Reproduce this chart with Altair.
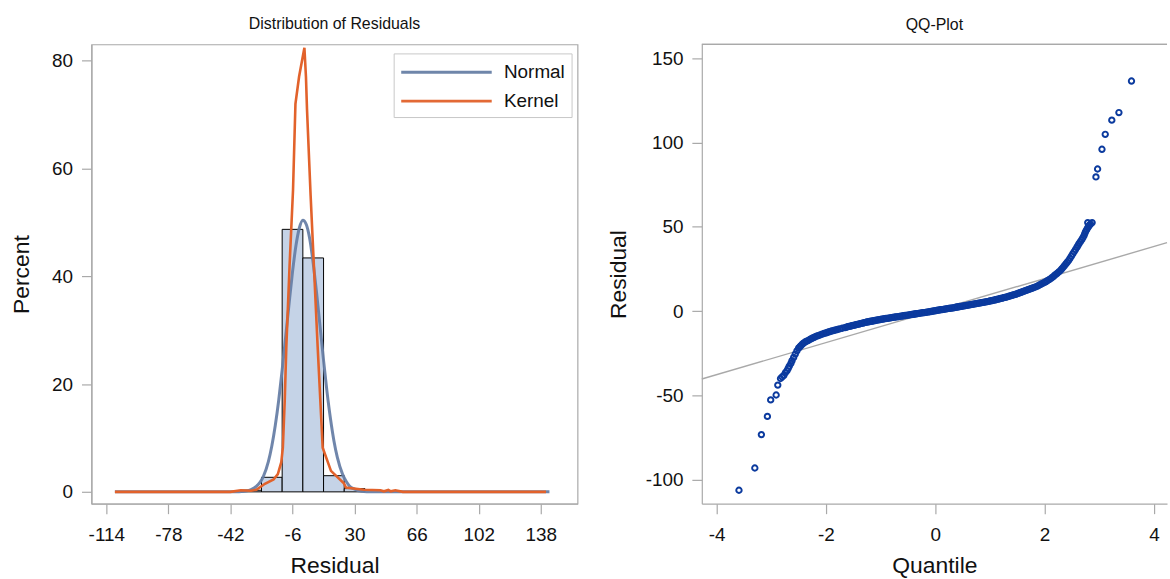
import altair as alt
import pandas as pd

# ---------------- data ----------------
# histogram (bin start, bin end, percent)
bin_start = [-36, -24, -12, 0, 12, 24]
bin_end = [-24, -12, 0, 12, 24, 36]
bin_pct = [0.3, 2.7, 48.7, 43.4, 3.0, 0.6]

# normal density curve (percent)
normal_x = [-109, -50, -40, -34, -30, -27, -25, -23, -20, -18, -16, -14, -12, -10, -8, -6, -4, -2,
            0, 2, 4, 6, 8, 10, 12, 14, 16, 18, 20, 23, 25, 27, 30, 34, 40, 50, 143]
normal_y = [0, 0, 0, 0.1, 0.4, 1.0, 1.7, 2.8, 5.6, 8.5, 12.3, 17.0, 22.6, 28.7, 34.9, 40.8, 45.7, 49.0,
            50.4, 49.6, 46.9, 42.4, 36.8, 30.6, 24.4, 18.6, 13.6, 9.5, 6.4, 3.3, 2.0, 1.1, 0.5, 0.1, 0, 0, 0]

# kernel density curve (percent)
kernel_x = [-109, -42, -36, -30, -27, -22, -17, -14.5, -12.5, -11.6, -10.5, -9.6, -7.7, -5.7, -4.3, -2.2,
            0.9, 1.8, 2.4, 4.5, 8.6, 11.5, 16.3, 23.8, 25, 35.4, 45, 47, 49.6, 51, 53.6, 58, 141]
kernel_y = [0, 0, 0.3, 0.2, 0.4, 1.5, 2.3, 3.3, 5.5, 8.2, 17, 26.8, 42, 56, 72, 77,
            82.4, 77, 71, 55, 26.8, 8.2, 3.9, 1.6, 0.8, 0.4, 0.3, 0.1, 0.35, 0.1, 0.3, 0, 0]

# QQ plot: theoretical quantile vs residual (tails and main curve)
qq_q = [-3.59, -3.30, -3.18, -3.07, -3.01, -2.91, -2.88, -2.83, -2.80, -2.77, -2.74, -2.71, -2.69, -2.67,
        -2.64, -2.62, -2.59, -2.56, -2.53, -2.50, -2.46, -2.41, -2.36, -2.30, -2.25, -2.20, -2.14, -2.07,
        -2.00, -1.95, -1.89, -1.82, -1.75, -1.65, -1.60, -1.55, -1.50, -1.45, -1.40, -1.35, -1.30, -1.25,
        -1.20, -1.15, -1.10, -1.05, -1.00, -0.95, -0.90, -0.85, -0.80, -0.75, -0.70, -0.65, -0.60, -0.55,
        -0.50, -0.45, -0.40, -0.35, -0.30, -0.25, -0.20, -0.15, -0.10, -0.05, 0.00, 0.05, 0.10, 0.15,
        0.20, 0.25, 0.30, 0.35, 0.40, 0.45, 0.50, 0.55, 0.60, 0.65, 0.70, 0.75, 0.80, 0.85, 0.90, 0.95,
        1.00, 1.05, 1.10, 1.15, 1.20, 1.25, 1.30, 1.35, 1.40, 1.45, 1.50, 1.55, 1.60, 1.65, 1.70, 1.75,
        1.80, 1.87, 1.93, 2.00, 2.05, 2.11, 2.17, 2.23, 2.29, 2.34, 2.39, 2.44, 2.49, 2.54, 2.59, 2.63,
        2.68, 2.72, 2.75, 2.79, 2.82, 2.84, 2.87, 2.79, 2.94, 2.97, 3.05, 3.11, 3.23, 3.36, 3.59]
qq_r = [-106.3, -93.1, -73.3, -62.5, -52.7, -49.8, -43.9, -40.0, -39.0, -38.2, -36.5, -35.3, -34.0, -32.7,
        -31.0, -29.4, -27.5, -25.5, -23.6, -22.0, -20.6, -19.0, -18.0, -17.0, -16.1, -15.3, -14.6, -13.7,
        -13.0, -12.4, -11.8, -11.2, -10.6, -9.8, -9.3, -8.9, -8.5, -8.1, -7.7, -7.3, -6.9, -6.5,
        -6.2, -5.9, -5.6, -5.3, -5.0, -4.7, -4.4, -4.2, -3.9, -3.6, -3.4, -3.1, -2.9, -2.6,
        -2.4, -2.1, -1.9, -1.6, -1.4, -1.1, -0.9, -0.6, -0.4, -0.1, 0.2, 0.5, 0.8, 1.0,
        1.3, 1.6, 1.8, 2.1, 2.4, 2.7, 2.9, 3.2, 3.5, 3.8, 4.1, 4.4, 4.7, 5.0, 5.3, 5.6,
        6.0, 6.3, 6.7, 7.1, 7.5, 7.9, 8.3, 8.8, 9.3, 9.8, 10.3, 10.9, 11.5, 12.1, 12.7, 13.3,
        13.9, 14.8, 15.9, 17.0, 18.0, 19.2, 20.8, 22.4, 24.1, 26.0, 28.0, 30.0, 32.6, 35.2, 37.8, 40.0,
        42.4, 44.7, 47.2, 49.5, 51.0, 51.6, 52.5, 52.5, 79.6, 84.3, 96.0, 104.9, 113.3, 117.8, 136.5]

# QQ plot: further points inside the dense central band
band_q = [-2.48, -2.435, -2.385, -2.33, -2.275, -2.225, -2.17, -2.105, -2.035, -1.975, -1.92, -1.855,
          -1.785, -1.70, -1.625, -1.575, -1.525, -1.475, -1.425, -1.375, -1.325, -1.275, -1.225, -1.175,
          -1.125, -1.075, -1.025, -0.975, -0.925, -0.875, -0.825, -0.775, -0.725, -0.675, -0.625, -0.575,
          -0.525, -0.475, -0.425, -0.375, -0.325, -0.275, -0.225, -0.175, -0.125, -0.075, -0.025, 0.025,
          0.075, 0.125, 0.175, 0.225, 0.275, 0.325, 0.375, 0.425, 0.475, 0.525, 0.575, 0.625, 0.675,
          0.725, 0.775, 0.825, 0.875, 0.925, 0.975, 1.025, 1.075, 1.125, 1.175, 1.225, 1.275, 1.325,
          1.375, 1.425, 1.475, 1.525, 1.575, 1.625, 1.675, 1.725, 1.775, 1.835, 1.90, 1.965, 2.025,
          2.08, 2.14, 2.20, 2.26, 2.315, 2.365, 2.415, 2.465, 2.515, 2.565, 2.61, 2.655, 2.70, 2.735,
          2.77, 2.805]
band_r = [-21.3, -19.8, -18.5, -17.5, -16.5, -15.7, -14.9, -14.1, -13.3, -12.7, -12.1, -11.5,
          -10.9, -10.2, -9.5, -9.1, -8.7, -8.3, -7.9, -7.5, -7.1, -6.7, -6.35, -6.05,
          -5.75, -5.45, -5.15, -4.85, -4.55, -4.3, -4.05, -3.75, -3.5, -3.25, -3.0, -2.75,
          -2.5, -2.25, -2.0, -1.75, -1.5, -1.25, -1.0, -0.75, -0.5, -0.25, 0.05, 0.35,
          0.65, 0.9, 1.15, 1.45, 1.7, 1.95, 2.25, 2.55, 2.8, 3.05, 3.35, 3.65, 3.95,
          4.25, 4.55, 4.85, 5.15, 5.45, 5.8, 6.15, 6.5, 6.9, 7.3, 7.7, 8.1, 8.55,
          9.05, 9.55, 10.05, 10.6, 11.2, 11.8, 12.4, 13.0, 13.6, 14.35, 15.35, 16.45, 17.5,
          18.6, 20.0, 21.6, 23.25, 25.0, 27.0, 29.0, 31.3, 33.9, 36.5, 38.9, 41.2, 43.5, 46.0,
          48.3, 50.2]

# reference line end points
ref_q = [-4.27, 4.24]
ref_r = [-40.3, 40.6]

left_ticks = [-114, -78, -42, -6, 30, 66, 102, 138]
pct_ticks = [0, 20, 40, 60, 80]
q_ticks = [-4, -2, 0, 2, 4]
r_ticks = [-100, -50, 0, 50, 100, 150]

# ---------------- styling ----------------
FONT = "Liberation Sans"
BLUE = "#6880a6"
ORANGE = "#e2622b"
HISTFILL = "#c5d3e7"
MARKER = "#0b3a9e"
GRAYLINE = "#a9a9a9"
HYPHEN = "datum.value + ''"
RIGHT_W = 468
PLOT_H = 462

hist_df = pd.DataFrame({"start": bin_start, "end": bin_end, "pct": bin_pct})
norm_df = pd.DataFrame({"x": normal_x, "y": normal_y, "curve": "Normal"})
kern_df = pd.DataFrame({"x": kernel_x, "y": kernel_y, "curve": "Kernel"})
qq_df = pd.DataFrame({"q": qq_q + band_q, "r": qq_r + band_r})
ref_df = pd.DataFrame({"q": ref_q, "r": ref_r})

xL = alt.Scale(domain=[-122.6, 159.3], nice=False, zero=False)
yL = alt.Scale(domain=[-2.2, 83], nice=False, zero=False)

xL_axis = alt.Axis(values=left_ticks, title="Residual", grid=False, labelExpr=HYPHEN)
yL_axis = alt.Axis(values=pct_ticks, title="Percent", grid=False, titlePadding=18)

color_scale = alt.Scale(domain=["Normal", "Kernel"], range=[BLUE, ORANGE])
legend = alt.Legend(
    title=None, orient="none", legendX=304, legendY=9,
    symbolType="M-1,0L7,0", symbolSize=518, symbolStrokeWidth=3,
    labelFontSize=19, labelFont=FONT, labelColor="#111111",
    strokeColor="#c8c8c8", fillColor="white", padding=6, rowPadding=6,
    labelOffset=79,
)

hist = alt.Chart(hist_df).mark_rect(fill=HISTFILL, stroke="black", strokeWidth=1).encode(
    x=alt.X("start:Q", scale=xL, axis=xL_axis),
    x2="end:Q",
    y=alt.Y("pct:Q", scale=yL, axis=yL_axis),
    y2=alt.datum(0),
)

normal = alt.Chart(norm_df).mark_line(strokeWidth=3, interpolate="monotone", opacity=0.95).encode(
    x=alt.X("x:Q", scale=xL),
    y=alt.Y("y:Q", scale=yL),
    color=alt.Color("curve:N", scale=color_scale, legend=legend),
)

kernel = alt.Chart(kern_df).mark_line(strokeWidth=2.6, interpolate="linear").encode(
    x=alt.X("x:Q", scale=xL),
    y=alt.Y("y:Q", scale=yL),
    color=alt.Color("curve:N", scale=color_scale, legend=legend),
)

left = alt.layer(hist, normal, kernel).properties(
    width=489, height=PLOT_H,
    title=alt.TitleParams("Distribution of Residuals", fontSize=16, font=FONT, fontWeight="normal",
                          color="#111111", offset=11),
)

xR = alt.Scale(domain=[-4.27, 4.24], nice=False, zero=False)
yR = alt.Scale(domain=[-114.3, 158.2], nice=False, zero=False)

# top frame line of the QQ panel (its right edge lies just outside the picture)
top_border = alt.Chart(ref_df).mark_rule(color=GRAYLINE, strokeWidth=1.2).encode(
    x=alt.value(0), x2=alt.value(RIGHT_W), y=alt.value(0),
)

ref = alt.Chart(ref_df).mark_line(color=GRAYLINE, strokeWidth=1.4).encode(
    x=alt.X("q:Q", scale=xR, axis=alt.Axis(values=q_ticks, title="Quantile", grid=False, labelExpr=HYPHEN)),
    y=alt.Y("r:Q", scale=yR, axis=alt.Axis(values=r_ticks, title="Residual", grid=False,
                                             labelExpr=HYPHEN, titlePadding=15)),
)
pts = alt.Chart(qq_df).mark_point(shape="circle", filled=False, color=MARKER, size=29,
                                  strokeWidth=2.0, opacity=1).encode(
    x=alt.X("q:Q", scale=xR),
    y=alt.Y("r:Q", scale=yR),
)

right = alt.layer(ref, pts, top_border).properties(
    width=RIGHT_W, height=PLOT_H,
    view=alt.ViewBackground(strokeOpacity=0),
    title=alt.TitleParams("QQ-Plot", fontSize=16, font=FONT, fontWeight="normal",
                          color="#111111", offset=11),
)

chart = alt.hconcat(left, right, spacing=28).properties(
    padding={"left": 10, "top": 13, "right": 0, "bottom": 0},
    background="white",
).configure_view(
    stroke=GRAYLINE, strokeWidth=1.2,
).configure_axis(
    labelFont=FONT, titleFont=FONT, labelFontSize=19, titleFontSize=23,
    labelColor="#111111", titleColor="#111111", titleFontWeight="normal",
    domainColor=GRAYLINE, tickColor=GRAYLINE, tickSize=10, domainWidth=1.2, tickWidth=1.2,
).configure_axisX(
    labelPadding=12, titlePadding=10,
).configure_axisY(
    labelPadding=9,
)

chart.save("out.html", embed_options={"renderer": "svg", "actions": False})
